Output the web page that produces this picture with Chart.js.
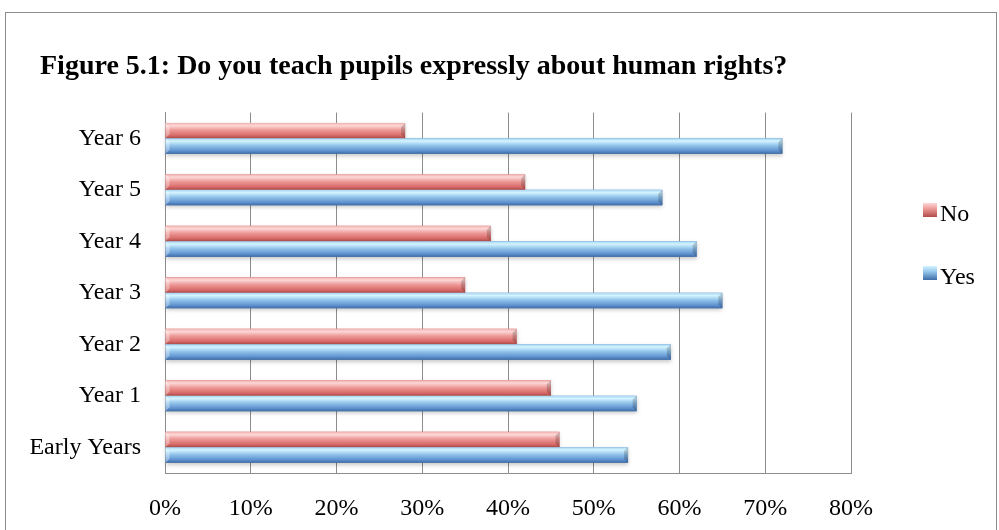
<!DOCTYPE html>
<html>
<head>
<meta charset="utf-8">
<script src="https://cdn.jsdelivr.net/npm/chart.js@4"></script>
<style>
  body { margin: 0; background: #fff; }
  #wrap { position: relative; width: 999px; height: 530px; overflow: hidden; }
  #frame { position: absolute; left: 5px; top: 12px; width: 990px; height: 540px; border: 1.5px solid #8c8c8c; }
  #chart { position: absolute; left: 0; top: 0; }
  .sq { position: absolute; left: 923px; width: 14px; height: 14px; }
  .lt { position: absolute; left: 940px; font-family: "Liberation Serif", serif; font-size: 24px; line-height: 24px; color: #000; }
</style>
</head>
<body>
<div id="wrap">
  <div id="frame"></div>
  <canvas id="chart" width="999" height="530"></canvas>
  <div id="legend"></div>
</div>
<script>
// chart values
const categories = ["Early Years", "Year 1", "Year 2", "Year 3", "Year 4", "Year 5", "Year 6"];
const noValues = [46, 45, 41, 35, 38, 42, 28];
const yesValues = [54, 55, 59, 65, 62, 58, 72];
const xTicks = [0, 10, 20, 30, 40, 50, 60, 70, 80];

const serif = "'Liberation Serif', 'Times New Roman', serif";

// gradient stops for the bevelled bars (top -> bottom)
const bevel = {
  No: ["#f0b0ae", "#fcd8d7", "#ee9c9a", "#d96c6a", "#b04c4a"],
  Yes: ["#a6d4f2", "#d4f4ff", "#95c6ec", "#6093d0", "#3e6ca6"],
};

// paints the 3d look on top of each bar, using the bar geometry chart.js worked out
const bevelPlugin = {
  id: "bevel",
  afterLayout(chart) {
    // title sits a bit further in than the axis labels
    chart.titleBlock.left += 20;
  },
  afterDatasetsDraw(chart) {
    const ctx = chart.ctx;
    chart.data.datasets.forEach((ds, i) => {
      const meta = chart.getDatasetMeta(i);
      const stops = bevel[ds.label];
      meta.data.forEach((bar) => {
        const p = bar.getProps(["x", "y", "base", "height"], true);
        const left = Math.min(p.base, p.x);
        const right = Math.max(p.base, p.x);
        const top = p.y - p.height / 2;
        const h = p.height;
        const g = ctx.createLinearGradient(0, top, 0, top + h);
        g.addColorStop(0, stops[0]);
        g.addColorStop(0.18, stops[1]);
        g.addColorStop(0.45, stops[2]);
        g.addColorStop(0.8, stops[3]);
        g.addColorStop(1, stops[4]);
        ctx.save();
        ctx.shadowColor = "rgba(0,0,0,0.22)";
        ctx.shadowBlur = 4;
        ctx.shadowOffsetY = 2;
        ctx.fillStyle = g;
        ctx.fillRect(left, top, right - left, h);
        ctx.restore();
        // bevelled end caps
        ctx.save();
        ctx.fillStyle = "rgba(0,0,0,0.18)";
        ctx.beginPath();
        ctx.moveTo(right, top);
        ctx.lineTo(right - 4, top + 4);
        ctx.lineTo(right - 4, top + h - 4);
        ctx.lineTo(right, top + h);
        ctx.closePath();
        ctx.fill();
        ctx.fillStyle = "rgba(255,255,255,0.35)";
        ctx.beginPath();
        ctx.moveTo(left, top);
        ctx.lineTo(left + 4, top + 4);
        ctx.lineTo(left + 4, top + h - 4);
        ctx.lineTo(left, top + h);
        ctx.closePath();
        ctx.fill();
        ctx.restore();
      });
    });
  },
};

const ctx = document.getElementById("chart").getContext("2d");
const chart = new Chart(ctx, {
  type: "bar",
  data: {
    labels: categories,
    datasets: [
      { label: "No", data: noValues, backgroundColor: "#d96c6a", categoryPercentage: 0.6, barPercentage: 1.0 },
      { label: "Yes", data: yesValues, backgroundColor: "#6093d0", categoryPercentage: 0.6, barPercentage: 1.0 },
    ],
  },
  options: {
    indexAxis: "y",
    responsive: false,
    animation: false,
    layout: { padding: { left: 20, right: 148, top: 0, bottom: 0 } },
    plugins: {
      legend: { display: false },
      tooltip: { enabled: false },
      title: {
        display: true,
        text: "Figure 5.1: Do you teach pupils expressly about human rights?",
        align: "start",
        color: "#000",
        font: { family: serif, size: 28, weight: "bold", lineHeight: 1.2 },
        padding: { top: 50, bottom: 29 },
      },
    },
    scales: {
      x: {
        min: 0,
        max: 80,
        afterFit(scale) { scale.height = 57; },
        afterBuildTicks(scale) { scale.ticks = xTicks.map((v) => ({ value: v })); },
        grid: { display: true, color: "#8c8c8c", lineWidth: 1, drawTicks: false },
        border: { display: true, color: "#8c8c8c", width: 1 },
        ticks: {
          padding: 21,
          color: "#000",
          font: { family: serif, size: 24 },
          callback: (v) => v + "%",
        },
      },
      y: {
        reverse: true,
        afterFit(scale) { scale.width = 145; },
        grid: { display: false, drawTicks: false },
        border: { display: true, color: "#8c8c8c", width: 1 },
        ticks: { padding: 24, color: "#000", font: { family: serif, size: 24 } },
      },
    },
  },
  plugins: [bevelPlugin],
});

// legend on the right, built from the datasets
const legendTops = { No: 203, Yes: 266 };
const legendEl = document.getElementById("legend");
chart.data.datasets.forEach((ds) => {
  const s = bevel[ds.label];
  const sq = document.createElement("div");
  sq.className = "sq";
  sq.style.top = legendTops[ds.label] + "px";
  sq.style.background = "linear-gradient(" + s[1] + "," + s[2] + " 40%," + s[4] + ")";
  legendEl.appendChild(sq);
  const txt = document.createElement("div");
  txt.className = "lt";
  txt.style.top = legendTops[ds.label] - 2 + "px";
  txt.textContent = ds.label;
  legendEl.appendChild(txt);
});
</script>
</body>
</html>
